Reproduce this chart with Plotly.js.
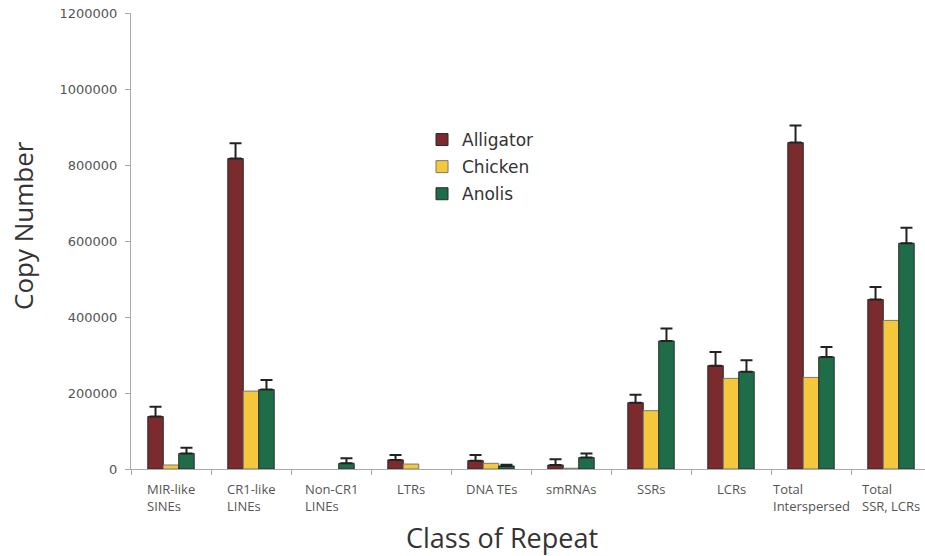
<!DOCTYPE html>
<html>
<head>
<meta charset="utf-8">
<script src="https://cdn.plot.ly/plotly-3.0.1.min.js"></script>
<style>html,body{margin:0;padding:0;background:#fff;}#chart{width:925px;height:556px;}</style>
</head>
<body>
<div id="chart"></div>
<script>
var categories = ["MIR-like<br>SINEs", "CR1-like<br>LINEs", "Non-CR1<br>LINEs", "LTRs", "DNA TEs", "smRNAs", "SSRs", "LCRs", "Total<br>Interspersed", "Total<br>SSR, LCRs"];
var alligator    = [138000, 817000, null, 24000, 22000, 10500, 174500, 272000, 859000, 446000];
var alligatorErr = [26000, 40000, NaN, 13000, 15000, 15000, 21000, 36000, 45000, 33000];
var chicken      = [10500, 205000, null, 13000, 15000, 2000, 153500, 238500, 241000, 391000];
var anolis       = [41000, 209000, 15000, null, 8000, 30000, 337000, 256000, 295000, 594000];
var anolisErr    = [15000, 25000, 13000, NaN, 3000, 11000, 32500, 30000, 26000, 41000];
var yTicks = [0, 200000, 400000, 600000, 800000, 1000000, 1200000];

var errStyle = function (arr) {
  return {type: 'data', symmetric: false, array: arr, color: '#222', thickness: 2, width: 6};
};

var traces = [
  {type: 'bar', name: 'Alligator', x: categories, y: alligator, legendgroup: 'a',
   marker: {color: '#7b2a2e', line: {color: '#2b2b2b', width: 1}}, error_y: errStyle(alligatorErr)},
  {type: 'bar', name: 'Chicken', x: categories, y: chicken, legendgroup: 'c',
   marker: {color: '#f5c73b', line: {color: '#777', width: 1}}, error_y: {visible: false}},
  {type: 'bar', name: 'Anolis', x: categories, y: anolis, legendgroup: 'n',
   marker: {color: '#1e6c48', line: {color: '#2b2b2b', width: 1}}, error_y: errStyle(anolisErr)}
];

var annotations = categories.map(function (c) {
  return {x: c, xref: 'x', y: -0.02, yref: 'paper', text: c, showarrow: false,
    xanchor: 'center', yanchor: 'top', align: 'left',
    font: {family: 'Open Sans', size: 13, color: '#555'}};
});
annotations.push({x: 0.467, xref: 'paper', y: -0.151, yref: 'paper', text: 'Class of Repeat',
  showarrow: false, xanchor: 'center', yanchor: 'middle',
  font: {family: 'Open Sans', size: 27, color: '#333'}});
annotations.push({x: -0.136, xref: 'paper', y: 0.533, yref: 'paper', text: 'Copy Number',
  showarrow: false, textangle: -90, xanchor: 'center', yanchor: 'middle',
  font: {family: 'Open Sans', size: 26, color: '#333'}});

var layout = {
  width: 925, height: 556,
  margin: {l: 131, r: 0, t: 13, b: 87},
  paper_bgcolor: '#fff', plot_bgcolor: '#fff',
  barmode: 'group', bargap: 0.42, bargroupgap: 0,
  showlegend: true,
  legend: {x: 0.3665, y: 0.761, xanchor: 'left', yanchor: 'top', traceorder: 'grouped',
    tracegroupgap: 2, bgcolor: 'rgba(0,0,0,0)',
    font: {family: 'DejaVu Sans', size: 17, color: '#333'}},
  xaxis: {type: 'category', range: [-0.5, 9.425], autorange: false, showgrid: false,
    showline: true, linecolor: '#aaa', linewidth: 1, ticks: 'outside', tickson: 'boundaries',
    ticklen: 5, tickcolor: '#aaa', showticklabels: false, zeroline: false, fixedrange: true},
  yaxis: {range: [0, 1200000], autorange: false, tickvals: yTicks, ticktext: yTicks.map(String),
    showgrid: false, zeroline: false, showline: true, linecolor: '#aaa', linewidth: 1,
    ticks: 'outside', ticklen: 5, tickcolor: '#aaa', ticklabelstandoff: 5,
    tickfont: {family: 'DejaVu Sans', size: 13, color: '#555'}},
  annotations: annotations
};

Plotly.newPlot('chart', traces, layout, {displayModeBar: false, staticPlot: true});
</script>
</body>
</html>
